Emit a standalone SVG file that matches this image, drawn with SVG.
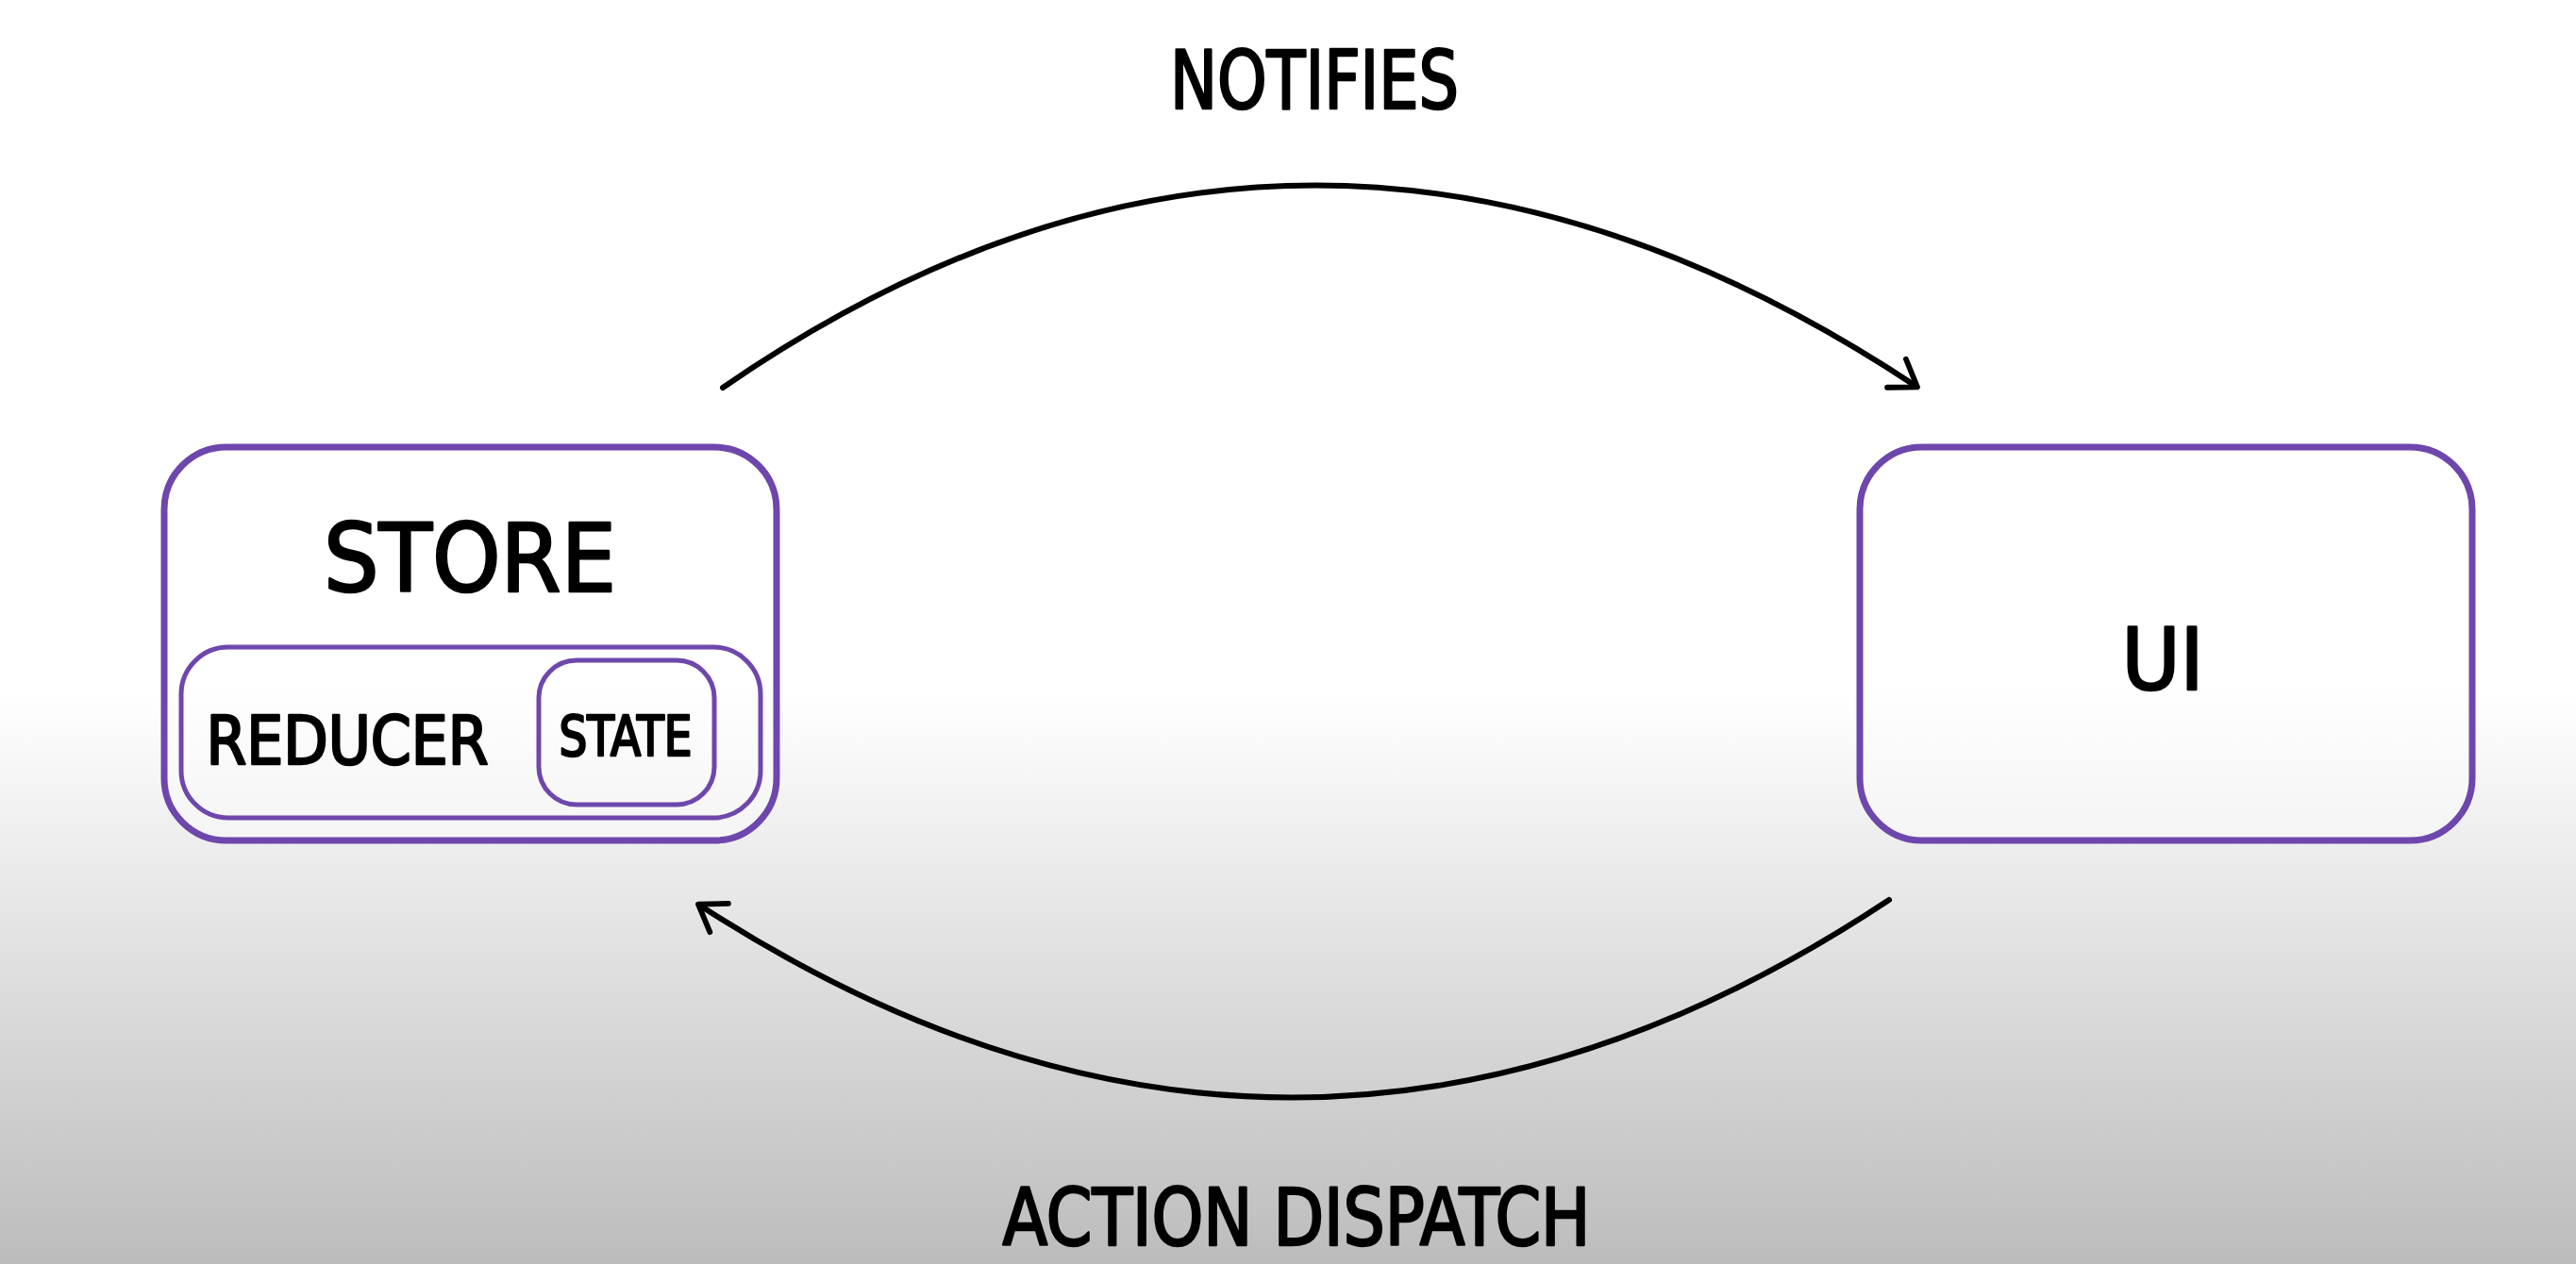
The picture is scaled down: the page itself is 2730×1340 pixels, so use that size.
<svg xmlns="http://www.w3.org/2000/svg" width="2730" height="1340" viewBox="0 0 2730 1340">
<defs>
<linearGradient id="bg" x1="0" y1="0" x2="0" y2="1">
<stop offset="0" stop-color="#ffffff"/>
<stop offset="0.55" stop-color="#ffffff"/>
<stop offset="1" stop-color="#bcbcbc"/>
</linearGradient>
<linearGradient id="boxfill" gradientUnits="userSpaceOnUse" x1="0" y1="474" x2="0" y2="891">
<stop offset="0.6" stop-color="#ffffff"/>
<stop offset="1" stop-color="#f4f4f4"/>
</linearGradient>
<marker id="head" viewBox="0 0 20 20" refX="14" refY="10" markerWidth="8" markerHeight="8" markerUnits="strokeWidth" orient="auto">
<path d="M4 2.5 L15 10 L4 17.5" fill="none" stroke="#000" stroke-width="2.4" stroke-linecap="round" stroke-linejoin="round"/>
</marker>
</defs>
<style>
.box{fill:url(#boxfill);stroke:#6e47ad;}
.outer{stroke-width:7;}
.inner{stroke-width:5;}
.lbl{font-family:"DejaVu Sans Condensed","DejaVu Sans",sans-serif;fill:#000;stroke:#000;stroke-width:2.5;stroke-linejoin:round;text-anchor:middle;}
.conn{fill:none;stroke:#000;stroke-width:6;stroke-linecap:round;marker-end:url(#head);}
</style>
<rect x="0" y="0" width="2730" height="1340" fill="url(#bg)"/>
<g id="connectors">
<path class="conn" d="M766 411 Q1387 -17 2030 409"/>
<path class="conn" d="M2002 954 Q1375 1370 742 960"/>
<text class="lbl" x="1393" y="115" font-size="86" textLength="306" lengthAdjust="spacingAndGlyphs">NOTIFIES</text>
<text class="lbl" x="1374" y="1320" font-size="84" textLength="623" lengthAdjust="spacingAndGlyphs">ACTION DISPATCH</text>
</g>
<g id="store">
<rect class="box outer" x="174" y="474" width="649" height="417" rx="66" ry="66"/>
<text class="lbl" x="498" y="627" font-size="100" textLength="310" lengthAdjust="spacingAndGlyphs">STORE</text>
</g>
<g id="reducer">
<rect class="box inner" x="192" y="686" width="614" height="181" rx="50" ry="50"/>
<text class="lbl" x="368" y="810" font-size="71" textLength="299" lengthAdjust="spacingAndGlyphs">REDUCER</text>
</g>
<g id="state">
<rect class="box inner" x="571" y="700" width="186" height="153" rx="40" ry="40"/>
<text class="lbl" x="663" y="801" font-size="59" textLength="141" lengthAdjust="spacingAndGlyphs">STATE</text>
</g>
<g id="ui">
<rect class="box outer" x="1971" y="474" width="649" height="417" rx="66" ry="66"/>
<text class="lbl" x="2292" y="731" font-size="90" textLength="87" lengthAdjust="spacingAndGlyphs">UI</text>
</g>
</svg>
